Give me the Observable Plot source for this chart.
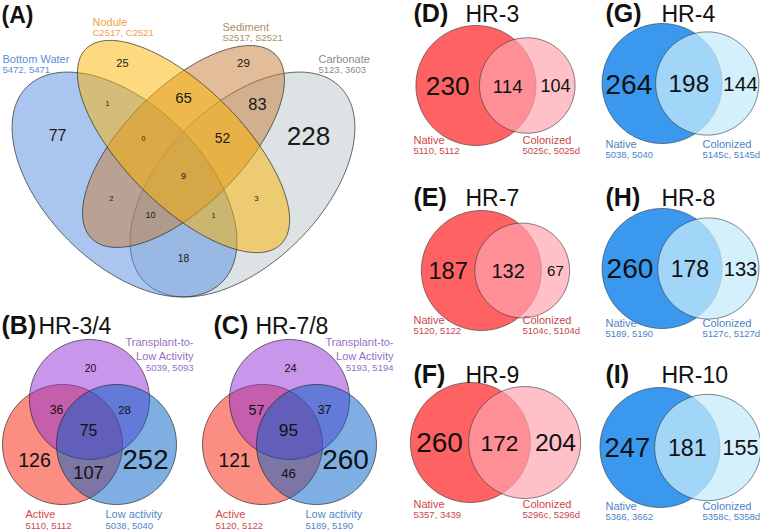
<!DOCTYPE html>
<html>
<head>
<meta charset="utf-8">
<script src="https://cdn.jsdelivr.net/npm/d3@7"></script>
<script src="https://cdn.jsdelivr.net/npm/@observablehq/plot@0.6"></script>
<style>
  html, body { margin: 0; padding: 0; background: #fff; }
  #chart svg { display: block; }
</style>
</head>
<body>
<div id="chart"></div>
<script>
// ---------------- DATA ----------------
// Panel A: four-set Venn
const quadSets = ["Bottom Water", "Nodule", "Sediment", "Carbonate"];
const quadSamples = ["5472, 5471", "C2517, C2521", "S2517, S2521", "5123, 3603"];
const quadRegionKeys = ["BW", "N", "S", "C", "BW&N", "N&S", "S&C", "BW&N&S", "N&S&C", "BW&N&S&C", "BW&S", "N&C", "BW&S&C", "BW&N&C", "BW&C"];
const quadCounts = [77, 25, 29, 228, 1, 65, 83, 0, 52, 9, 2, 3, 10, 1, 18];

// Panels B, C: three-set Venns
const tripleRegionKeys = ["T", "A&T", "T&L", "A&T&L", "A", "A&L", "L"];
const hr34Counts = [20, 36, 28, 75, 126, 107, 252];
const hr78Counts = [24, 57, 37, 95, 121, 46, 260];
const hr34Samples = ["5110, 5112", "5039, 5093", "5038, 5040"]; // Active, Transplant, Low activity
const hr78Samples = ["5120, 5122", "5193, 5194", "5189, 5190"];

// Panels D-I: two-set Venns
const pairPanels = ["D", "E", "F", "G", "H", "I"];
const pairTitles = ["HR-3", "HR-7", "HR-9", "HR-4", "HR-8", "HR-10"];
const nativeOnly = [230, 187, 260, 264, 260, 247];
const shared = [114, 132, 172, 198, 178, 181];
const colonizedOnly = [104, 67, 204, 144, 133, 155];
const nativeSamples = ["5110, 5112", "5120, 5122", "5357, 3439", "5038, 5040", "5189, 5190", "5366, 3662"];
const colonizedSamples = ["5025c, 5025d", "5104c, 5104d", "5296c, 5296d", "5145c, 5145d", "5127c, 5127d", "5358c, 5358d"];

// ---------------- LAYOUT / STYLE ----------------
const FONT = '"Liberation Sans", Arial, Helvetica, sans-serif';
const fontScale = d3.scalePow().exponent(0.7).domain([0, 260]).range([7, 28]);

// Panel A ellipses (drawing order)
const quadEllipses = [
  {set: "Carbonate",    cx: 242, cy: 184, a: 138, b: 79, angle: -45, color: "#bbc5c9"},
  {set: "Bottom Water", cx: 124, cy: 184, a: 138, b: 79, angle: 45,  color: "#558de1"},
  {set: "Sediment",     cx: 183, cy: 146, a: 130, b: 59, angle: -45, color: "#c77b35"},
  {set: "Nodule",       cx: 183, cy: 146, a: 138, b: 59, angle: 45,  color: "#fbb300"}
];
const quadLabelPos = [[57,135],[122,63],[243,63],[308,136],[107,103],[183,98],[257,104],[143,138],[222,138],[183,176],[111,198],[256,198],[150,215],[213,215],[183,258]];
const quadSetLabel = [
  {x: 2,   y: 62, color: "#5b8fd8"},
  {x: 92,  y: 25, color: "#f2a046"},
  {x: 222, y: 30, color: "#a6915e"},
  {x: 318, y: 62, color: "#8c8c8c"}
];

// Panels B/C
const tripleR = 60;
const tripleCircleOffsets = [ // drawing order: Active, Transplant, Low activity
  {key: "A", dx: -27, dy: 45, color: "#f71b07"},
  {key: "T", dx: 0,   dy: 0,  color: "#912fd9"},
  {key: "L", dx: 27,  dy: 45, color: "#005dc5"}
];
const tripleLabelOffsets = [[1,-31],[-33,11],[35,11],[-1,31],[-55,61],[-1,74],[56,61]];
const triplePanels = [
  {tag: "(B)", title: "HR-3/4", counts: hr34Counts, samples: hr34Samples, px: 89, py: 399, tagX: 1, titleX: 38, activeX: 25, lowX: 105, transX: 193},
  {tag: "(C)", title: "HR-7/8", counts: hr78Counts, samples: hr78Samples, px: 289, py: 399, tagX: 213, titleX: 255, activeX: 215, lowX: 305, transX: 393}
];

// Panels D-I
const pairR = 60;
const pairCol = [0, 0, 0, 1, 1, 1];
const pairCy = [85, 270, 442, 83, 268, 447];
const pairLabelBase = [143, 323, 507, 147, 326, 509];
const pairTitleBase = [21, 205, 382, 21, 205, 382];
const colCenter = [495, 680];
const colTagX = [413, 605];
const colTitleX = [465, 661];
const colNativeX = [413, 605];
const colColonX = [522, 702];
const pairStyle = [
  {native: "#ff6262", colon: "#ffa4af", colonOp: 0.69, text: "#c9474a"},
  {native: "#3a99ee", colon: "#c7ebfc", colonOp: 0.74, text: "#4a84c4"}
];

// ---------------- GEOMETRY HELPERS ----------------
function ellipsePts(cx, cy, a, b, angleDeg, n = 160) {
  const th = angleDeg * Math.PI / 180, c = Math.cos(th), s = Math.sin(th);
  return d3.range(n).map(i => {
    const t = 2 * Math.PI * i / n;
    const u = a * Math.cos(t), v = b * Math.sin(t);
    return {x: cx + u * c - v * s, y: cy + u * s + v * c};
  });
}
function lensArea(r1, r2, d) {
  if (d >= r1 + r2) return 0;
  if (d <= Math.abs(r1 - r2)) return Math.PI * Math.min(r1, r2) ** 2;
  const a1 = Math.acos((d*d + r1*r1 - r2*r2) / (2*d*r1));
  const a2 = Math.acos((d*d + r2*r2 - r1*r1) / (2*d*r2));
  return r1*r1*a1 + r2*r2*a2 - 0.5*Math.sqrt((-d+r1+r2)*(d+r1-r2)*(d-r1+r2)*(d+r1+r2));
}
function solveDistance(r1, r2, target) {
  let lo = Math.abs(r1 - r2), hi = r1 + r2;
  for (let k = 0; k < 80; k++) {
    const mid = (lo + hi) / 2;
    if (lensArea(r1, r2, mid) > target) lo = mid; else hi = mid;
  }
  return (lo + hi) / 2;
}

// ---------------- BUILD MARKS ----------------
const marks = [];
const texts = [];   // {x, y, text, size, color, weight, anchor, line}

// Panel A
quadEllipses.forEach(e => {
  marks.push(Plot.line(ellipsePts(e.cx, e.cy, e.a, e.b, e.angle), {
    x: "x", y: "y", curve: "linear-closed",
    fill: e.color, fillOpacity: 0.5, stroke: "#2a2a2a", strokeWidth: 0.7
  }));
});
quadCounts.forEach((v, i) => texts.push({x: quadLabelPos[i][0], y: quadLabelPos[i][1], text: String(v), size: fontScale(v), color: "#1a1a1a", anchor: "middle", line: "middle"}));
quadSets.forEach((s, i) => {
  const L = quadSetLabel[i];
  texts.push({x: L.x, y: L.y, text: s, size: 11, color: L.color, anchor: "start", line: "bottom"});
  texts.push({x: L.x, y: L.y + 10.5, text: quadSamples[i], size: 9.5, color: L.color, anchor: "start", line: "bottom"});
});
texts.push({x: 1, y: 22, text: "(A)", size: 23, color: "#111", weight: "bold", anchor: "start", line: "bottom"});

// Panels B, C
const tripleTextColor = {A: "#cf4a4a", T: "#9570c2", L: "#4f86c8"};
triplePanels.forEach(P => {
  tripleCircleOffsets.forEach(c => {
    const pts = ellipsePts(P.px + c.dx, P.py + c.dy, tripleR, tripleR, 0);
    marks.push(Plot.line(pts, {x: "x", y: "y", curve: "linear-closed", fill: c.color, fillOpacity: 0.5, stroke: "#2a2a2a", strokeWidth: 0.7}));
  });
  P.counts.forEach((v, i) => texts.push({x: P.px + tripleLabelOffsets[i][0], y: P.py + tripleLabelOffsets[i][1], text: String(v), size: fontScale(v), color: "#111", anchor: "middle", line: "middle"}));
  texts.push({x: P.tagX, y: 333, text: P.tag, size: 25, color: "#111", weight: "bold", anchor: "start", line: "bottom"});
  texts.push({x: P.titleX, y: 333, text: P.title, size: 23, color: "#111", anchor: "start", line: "bottom"});
  texts.push({x: P.transX, y: 345, text: "Transplant-to-", size: 11, color: tripleTextColor.T, anchor: "end", line: "bottom"});
  texts.push({x: P.transX, y: 359.5, text: "Low Activity", size: 11, color: tripleTextColor.T, anchor: "end", line: "bottom"});
  texts.push({x: P.transX, y: 370.5, text: P.samples[1], size: 9.5, color: tripleTextColor.T, anchor: "end", line: "bottom"});
  texts.push({x: P.activeX, y: 517, text: "Active", size: 11, color: tripleTextColor.A, anchor: "start", line: "bottom"});
  texts.push({x: P.activeX, y: 528, text: P.samples[0], size: 9.5, color: tripleTextColor.A, anchor: "start", line: "bottom"});
  texts.push({x: P.lowX, y: 517, text: "Low activity", size: 11, color: tripleTextColor.L, anchor: "start", line: "bottom"});
  texts.push({x: P.lowX, y: 528, text: P.samples[2], size: 9.5, color: tripleTextColor.L, anchor: "start", line: "bottom"});
});

// Panels D-I (area-proportional two-set Venns)
pairPanels.forEach((p, i) => {
  const n1 = nativeOnly[i] + shared[i], n2 = colonizedOnly[i] + shared[i];
  const r1 = Math.sqrt(n1 / Math.PI), r2 = Math.sqrt(n2 / Math.PI);
  const d = solveDistance(r1, r2, shared[i]);
  const s = pairR / Math.max(r1, r2);
  const col = pairCol[i], cy = pairCy[i], st = pairStyle[col];
  const width = s * (r1 + d + r2);
  const left = colCenter[col] - width / 2;
  const R1 = s * r1, R2 = s * r2;
  const c1 = left + R1, c2 = c1 + s * d;
  marks.push(Plot.line(ellipsePts(c1, cy, R1, R1, 0), {x: "x", y: "y", curve: "linear-closed", fill: st.native, fillOpacity: 1, stroke: "#333", strokeWidth: 0.6}));
  marks.push(Plot.line(ellipsePts(c2, cy, R2, R2, 0), {x: "x", y: "y", curve: "linear-closed", fill: st.colon, fillOpacity: st.colonOp, stroke: "#333", strokeWidth: 0.6}));
  const L1 = c1 - R1, E1 = c1 + R1, L2 = c2 - R2, E2 = c2 + R2;
  const vals = [nativeOnly[i], shared[i], colonizedOnly[i]];
  const xs = [(L1 + L2) / 2, (L2 + E1) / 2, (E1 + E2) / 2];
  vals.forEach((v, k) => texts.push({x: xs[k], y: cy + 1, text: String(v), size: fontScale(v), color: "#111", anchor: "middle", line: "middle"}));
  texts.push({x: colTagX[col], y: pairTitleBase[i], text: "(" + p + ")", size: 25, color: "#111", weight: "bold", anchor: "start", line: "bottom"});
  texts.push({x: colTitleX[col], y: pairTitleBase[i], text: pairTitles[i], size: 23, color: "#111", anchor: "start", line: "bottom"});
  texts.push({x: colNativeX[col], y: pairLabelBase[i], text: "Native", size: 11, color: st.text, anchor: "start", line: "bottom"});
  texts.push({x: colNativeX[col], y: pairLabelBase[i] + 10.5, text: nativeSamples[i], size: 9.5, color: st.text, anchor: "start", line: "bottom"});
  texts.push({x: colColonX[col], y: pairLabelBase[i], text: "Colonized", size: 11, color: st.text, anchor: "start", line: "bottom"});
  texts.push({x: colColonX[col], y: pairLabelBase[i] + 10.5, text: colonizedSamples[i], size: 9.5, color: st.text, anchor: "start", line: "bottom"});
});

// group texts by anchor/line/weight so constant options can be used
const groups = d3.groups(texts, t => (t.anchor) + "|" + (t.line) + "|" + (t.weight || "normal"));
groups.forEach(([key, arr]) => {
  const [anchor, line, weight] = key.split("|");
  marks.push(Plot.text(arr, {
    x: "x", y: "y", text: "text",
    fontSize: d => d.size,
    fill: d => d.color,
    textAnchor: anchor, lineAnchor: line, fontWeight: weight,
    fontFamily: FONT
  }));
});

const chart = Plot.plot({
  width: 760,
  height: 531,
  margin: 0,
  x: {domain: [0, 760], range: [0, 760], axis: null},
  y: {domain: [0, 531], range: [0, 531], axis: null},
  color: {type: "identity"},
  style: {background: "#fff", fontFamily: FONT},
  marks
});
document.getElementById("chart").appendChild(chart);
</script>
</body>
</html>
